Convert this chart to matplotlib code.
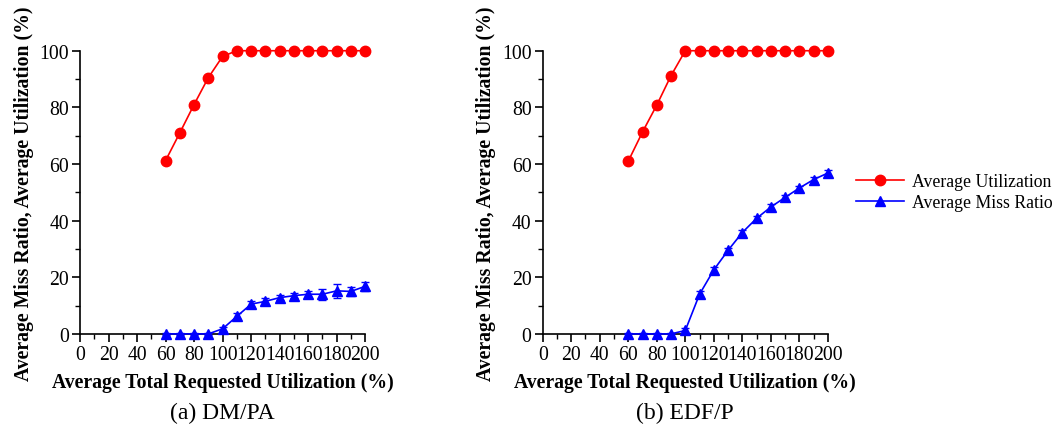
import matplotlib
matplotlib.use("Agg")
import matplotlib.pyplot as plt
from matplotlib.ticker import MultipleLocator

plt.rcParams['font.family'] = ['Liberation Serif', 'DejaVu Serif']

# requested utilization (%)
x = [60, 70, 80, 90, 100, 110, 120, 130, 140, 150, 160, 170, 180, 190, 200]

# (a) DM/PA
util_a = [61.2, 71.0, 81.0, 90.5, 98.0, 100, 100, 100, 100, 100, 100, 100, 100, 100, 100]
miss_a = [0, 0, 0, 0, 1.8, 6.2, 10.5, 11.5, 12.8, 13.5, 14.0, 14.0, 15.2, 15.0, 16.8]
err_a = [0.3, 0.3, 0.3, 0.3, 0.8, 1.0, 1.0, 1.0, 1.0, 1.0, 1.0, 2.0, 2.5, 1.6, 1.6]

# (b) EDF/P
util_b = [61.0, 71.3, 80.8, 91.2, 100, 100, 100, 100, 100, 100, 100, 100, 100, 100, 100]
miss_b = [0, 0, 0, 0, 1.2, 14.0, 22.6, 29.5, 35.8, 40.8, 44.8, 48.2, 51.5, 54.5, 56.8]
err_b = [0.2, 0.2, 0.2, 0.2, 0.8, 1.0, 1.0, 1.0, 1.0, 0.9, 0.9, 0.9, 0.9, 0.9, 0.9]

captions = ['(a) DM/PA', '(b) EDF/P']

fig = plt.figure(figsize=(10.6, 4.31), dpi=100)
ax_a = fig.add_axes([0.0755, 0.223, 0.269, 0.657])
ax_b = fig.add_axes([0.512, 0.223, 0.269, 0.657])

lines = None
for ax, util, miss, err, cap in [(ax_a, util_a, miss_a, err_a, captions[0]),
                                 (ax_b, util_b, miss_b, err_b, captions[1])]:
    l1, = ax.plot(x, util, color='#ff0000', marker='o', markersize=7.5, lw=1.2,
                  clip_on=False, zorder=3)
    eb = ax.errorbar(x, miss, yerr=err, color='#0000ff', marker='^', markersize=7.5,
                     lw=1.2, capsize=3, elinewidth=1, clip_on=False, zorder=3)
    for art in eb.lines[1] + eb.lines[2]:
        art.set_clip_on(False)
    lines = (l1, eb.lines[0])

    ax.set_xlim(0, 200)
    ax.set_ylim(0, 100)
    ax.spines['top'].set_visible(False)
    ax.spines['right'].set_visible(False)
    ax.spines['left'].set_linewidth(1.2)
    ax.spines['bottom'].set_linewidth(1.2)
    ax.xaxis.set_major_locator(MultipleLocator(20))
    ax.xaxis.set_minor_locator(MultipleLocator(10))
    ax.yaxis.set_major_locator(MultipleLocator(20))
    ax.yaxis.set_minor_locator(MultipleLocator(10))
    ax.tick_params(which='major', direction='out', length=6, width=1.2,
                   labelsize=14.2, pad=2)
    ax.tick_params(which='minor', direction='out', length=3.5, width=1.0)
    ax.set_xlabel('Average Total Requested Utilization (%)', fontsize=14.2,
                  fontweight='bold', labelpad=6)
    ax.set_ylabel('Average Miss Ratio, Average Utilization (%)', fontsize=14.2,
                  fontweight='bold', labelpad=4)
    ax.text(0.5, -0.279, cap, transform=ax.transAxes, ha='center', va='center',
            fontsize=17)

fig.legend(lines, ['Average Utilization', 'Average Miss Ratio'],
           loc='center left', bbox_to_anchor=(0.808, 0.552), frameon=False,
           fontsize=12.8, handlelength=2.7, handletextpad=0.45, labelspacing=0.2,
           borderaxespad=0, borderpad=0)

fig.savefig('out.png', dpi=100)
